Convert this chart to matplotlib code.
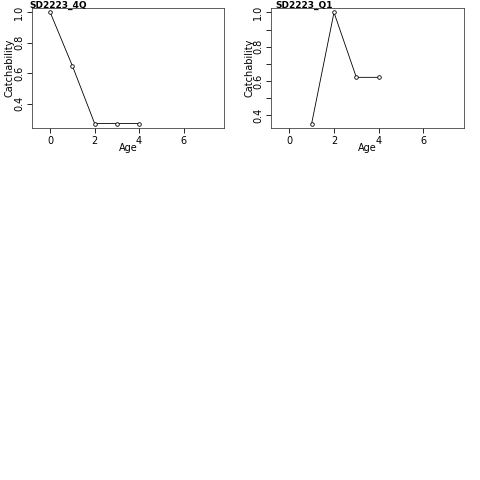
import matplotlib
matplotlib.use("Agg")
import matplotlib.pyplot as plt

plt.rcParams['font.family'] = ['DejaVu Sans']

# Survey catchability by age for each index
titles = ["SD2223_4Q", "SD2223_Q1"]
ages_4q = [0, 1, 2, 3, 4]
catch_4q = [1.0, 0.647, 0.268, 0.268, 0.268]
ages_q1 = [1, 2, 3, 4]
catch_q1 = [0.351, 1.0, 0.621, 0.621]

x_ticks = [0, 2, 4, 6]
panels = [
    (titles[0], ages_4q, catch_4q, [0.4, 0.6, 0.8, 1.0], [0.4, 0.6, 0.8, 1.0]),
    (titles[1], ages_q1, catch_q1, [0.4, 0.5, 0.6, 0.7, 0.8, 0.9, 1.0], [0.4, 0.6, 0.8, 1.0]),
]

fig = plt.figure(figsize=(4.8, 4.8), dpi=100)
W, H = 480, 480
boxes = [(32, 8, 224, 128), (271, 8, 464, 128)]
title_x = [29, 275]

for (title, ages, vals, yt, ylab), (l, t, r, b), tx in zip(panels, boxes, title_x):
    ax = fig.add_axes([l / W, 1 - b / H, (r - l) / W, (b - t) / H])
    ax.plot(ages, vals, color='black', lw=0.6, marker='o', ms=2.6,
            mfc='white', mec='black', mew=0.6)
    lo, hi = min(vals), max(vals)
    pad = 0.04 * (hi - lo)
    ax.set_ylim(lo - pad, hi + pad)
    ax.set_xlim(-0.82, 7.82)
    ax.set_xticks(x_ticks)
    ax.set_xticklabels([str(v) for v in x_ticks], fontsize=7)
    ax.set_yticks(yt)
    ax.set_yticklabels([f"{v:.1f}" if v in ylab else "" for v in yt],
                       fontsize=7, rotation=90, va='center')
    ax.tick_params(length=3.5, width=0.6, pad=2, colors='black')
    for s in ax.spines.values():
        s.set_linewidth(0.6)
        s.set_color('#444444')
    ax.set_xlabel("Age", fontsize=7, labelpad=-2)
    # axis title placed just left of the rotated tick labels
    fig.text((l - 22) / W, 1 - ((t + b) / 2) / H, "Catchability", fontsize=7,
             rotation=90, ha='center', va='center')
    fig.text(tx / W, 1 - 7.5 / H, title, fontsize=6.5,
             fontweight='bold', ha='left', va='baseline')

fig.savefig("out.png", dpi=100, facecolor='white')
